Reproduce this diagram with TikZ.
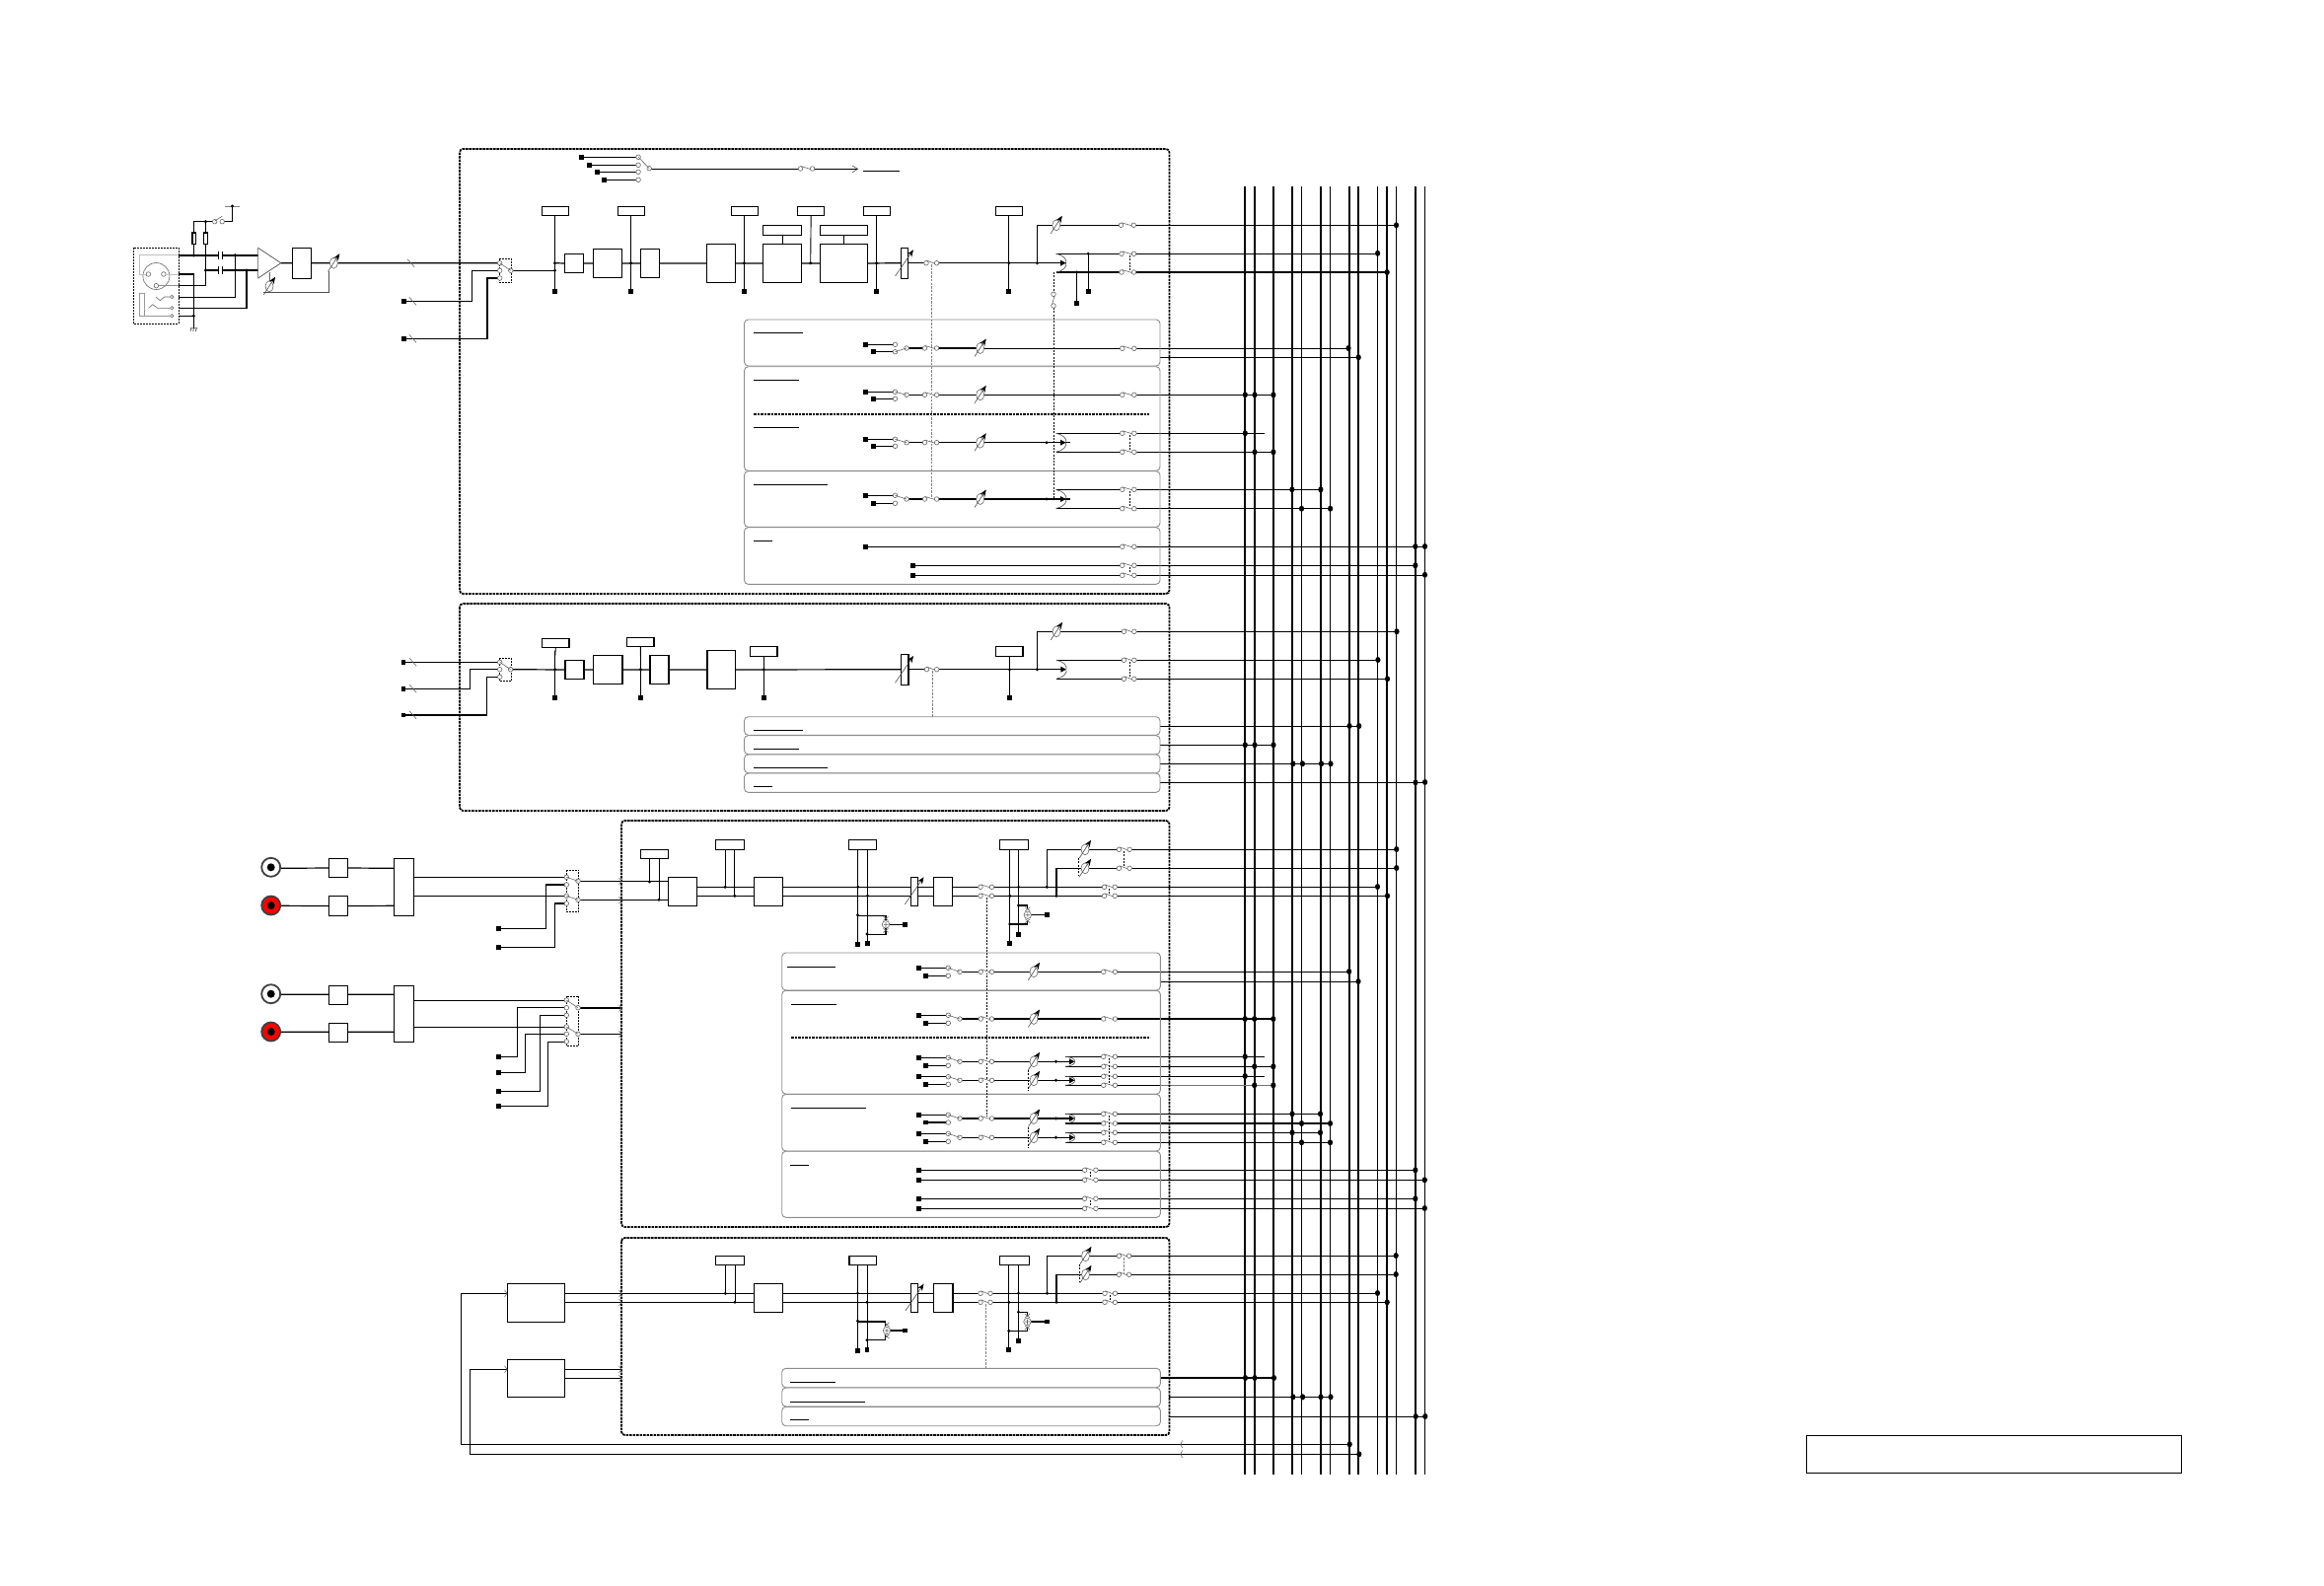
\documentclass[tikz,border=0pt]{standalone}
\usetikzlibrary{arrows.meta,shapes.geometric}
\pgfdeclarelayer{bg}
\pgfsetlayers{bg,main}
\newcounter{nn}
\tikzset{
 wire/.style={line width=1.2pt,black},
 thinw/.style={line width=.9pt,black},
 sym/.style={line width=.6pt,black!60},
 boxst/.style={draw=black,line width=1.1pt,fill=white,inner sep=0pt,outer sep=0pt},
 sqr/.style={fill=black,inner sep=0pt,outer sep=0pt,minimum width=4.8pt,minimum height=4.8pt},
 dotn/.style={circle,fill=black,inner sep=0pt,outer sep=0pt,minimum size=3.3pt},
 bdotn/.style={ellipse,fill=black,inner sep=0pt,outer sep=0pt,minimum width=5.2pt,minimum height=6pt},
 term/.style={circle,draw=black!60,line width=.6pt,fill=white,inner sep=0pt,minimum size=4.6pt},
 frame/.style={draw=black,line width=1.8pt,dash pattern=on 2.6pt off .9pt,rounded corners=3.5pt},
 panel/.style={draw=black!45,line width=.9pt,rounded corners=4pt},
 gang/.style={line width=.7pt,black,dash pattern=on 2pt off 1.3pt},
 ggang/.style={line width=.6pt,black!50,dash pattern=on 2.5pt off 1.2pt},
 sepl/.style={line width=1.7pt,black,dash pattern=on 2.6pt off .9pt},
 uline/.style={line width=1pt,black},
}
\newcommand\W[2][]{\begin{pgfonlayer}{bg}\draw[wire,#1] #2;\end{pgfonlayer}}
\newcommand\bx[5]{\pgfmathsetmacro\bxw{#4-#2}\pgfmathsetmacro\bxh{#5-#3}\node[boxst,minimum width=\bxw pt,minimum height=\bxh pt] (#1) at ({(#2+#4)/2},{(#3+#5)/2}) {};}
\newcommand\sq[2]{\stepcounter{nn}\node[sqr] (sq\thenn) at (#1,#2) {};}
\newcommand\dt[2]{\stepcounter{nn}\node[dotn] (dt\thenn) at (#1,#2) {};}
\newcommand\bd[2]{\stepcounter{nn}\node[bdotn] (bd\thenn) at (#1,#2) {};}
\newcommand\tm[2]{\stepcounter{nn}\node[term] (tm\thenn) at (#1,#2) {};}
% in-line switch that breaks a wire
\newcommand\osw[3]{\fill[white] (#1,#3-1.2) rectangle (#2,#3+1.2);\tm{#1}{#3}\tm{#2}{#3}\draw[sym] (#1+.5,#3-2.5) -- (#2-2,#3+.5);}
\newcommand\fad[2]{\stepcounter{nn}\node[draw=black!60,line width=.6pt,fill=white,ellipse,inner sep=0pt,minimum width=8pt,minimum height=11pt] (fd\thenn) at (#1,#2) {};
 \draw[line width=.6pt,black!70,-{Stealth[length=7pt,width=5.5pt,black]}] (#1-5.7,#2+8.5) -- (#1+6,#2-9.5);}
\newcommand\tick[2]{\draw[sym] (#1-3.5,#2-4) -- (#1+3.5,#2+4);}
\newcommand\chev[2]{\draw[sym] (#1-2.5,#2-3.5) -- (#1,#2) -- (#1-2.5,#2+3.5);}
\newcommand\tipa[2]{\fill[black] (#1-5.5,#2-3) -- (#1,#2) -- (#1-5.5,#2+3) -- cycle;}
\newcommand\spl[3]{% tip x, y, half height
 \draw[line width=.6pt,black!70] (#1-10,#2-#3) .. controls (#1-3,#2-#3+1) and (#1+2,#2-3) .. (#1,#2) .. controls (#1+2,#2+3) and (#1-3,#2+#3-1) .. (#1-10,#2+#3);
 \tipa{#1}{#2}}
\newcommand\bus[2]{\begin{pgfonlayer}{bg}\stepcounter{nn}\coordinate (bt\thenn) at (#1,189);\coordinate (bb\thenn) at (#1,1495);\draw[black,line width=#2pt] (bt\thenn) -- (bb\thenn);\end{pgfonlayer}}
\newcommand\cplus[2]{\stepcounter{nn}\node[draw=black!60,line width=.6pt,fill=white,circle,inner sep=0pt,minimum size=7.5pt] (pl\thenn) at (#1,#2) {};
 \draw[sym] (#1-2.5,#2) -- (#1+2.5,#2) (#1,#2-2.5) -- (#1,#2+2.5) (#1-2.5,#2-8) -- (#1+2.5,#2-4) (#1+2.5,#2-8) -- (#1-2.5,#2-4) (#1-2.5,#2+8) -- (#1+2.5,#2+4) (#1+2.5,#2+8) -- (#1-2.5,#2+4);}
\newcommand\rca[3]{\stepcounter{nn}\node[circle,draw=black!75,line width=1.8pt,fill=#3,inner sep=0pt,minimum size=19pt] (rc\thenn) at (#1,#2) {};\fill[black] (#1,#2) circle (4pt);}
% channel strip input: y sq A, y sq B, y out, y selected terminal
\newcommand\chan[4]{\W{(\cxa,#1) -- (\cxt,#1) (\cxb,#2) -- (\cxt,#2) (\cxo,#3) -- (\cxs,#3)}\W{(\cxz,#3) -- (\cxf,#3)}
 \sq{\cxa}{#1}\sq{\cxb}{#2}\tm{\cxt}{#1}\tm{\cxt}{#2}\tm{\cxo}{#3}\draw[sym] (\cxt,#4) -- (\cxo,#3);
 \osw{\cxs}{\cxz}{#3}\fad{\cxf}{#3}}
\begin{document}
\begin{tikzpicture}[x=1pt,y=-1pt]
\useasboundingbox (0,0) rectangle (2356,1607);
\begin{pgfonlayer}{bg}\fill[white] (0,0) rectangle (2356,1607);\end{pgfonlayer}
% vertical buses
\bus{1262.3}{2}\bus{1272}{1.9}\bus{1290.9}{1.7}\bus{1309.8}{1.7}\bus{1319.5}{1.6}\bus{1338.9}{1.5}\bus{1348.6}{1}\bus{1368}{1.7}\bus{1377.2}{1.6}\bus{1396.6}{1}\bus{1406.2}{1.5}\bus{1415.5}{1}\bus{1434.8}{1.7}\bus{1444.5}{1}
% frames
\draw[frame] (466,151) rectangle (1185.5,602);
\draw[frame] (466,612) rectangle (1185.5,822);
\draw[frame] (630,832) rectangle (1185.5,1244);
\draw[frame] (630,1255) rectangle (1185.5,1455);
% panels
\foreach \a/\b in {324/371,371.7/477.3,477.7/534.3,534.7/592.3,726.7/745.3,745.7/764.7,765/783.7,784/803.3}{\draw[panel] (754.5,\a) rectangle (1176,\b);}
\foreach \a/\b in {966/1004,1004.3/1109.2,1109.4/1167,1167.2/1234.3,1387.3/1406.7,1407/1426,1426.3/1445.7}{\draw[panel] (792.7,\a) rectangle (1176.4,\b);}
% panel underlines
\foreach \a/\b/\c in {764/814/337.3,764/810/385.3,764/810/433.3,764/839/491.3,764/783/548,764/814/740.3,764/810/759.3,764/839/778.3,764/783/797.3,798/847/980,802/848/1018,802/878/1123.3,801/820/1181,801/847/1401.3,801/877/1421.3,801/820/1439.3}{\draw[uline] (\a,\c) -- (\b,\c);}
\draw[sepl] (764,420) -- (1165,420);
\draw[sepl] (802,1052) -- (1166,1052);
% ---------- mic input ----------
\draw[line width=.8pt,black,dash pattern=on 2pt off 1pt] (135.4,251.3) rectangle (181.3,328.3);
\draw[sym] (158.4,280) circle (13.5pt);
\stepcounter{nn}\node[term] (xa) at (150.4,278) {};\node[term] (xb) at (165.9,278) {};\node[term] (xc) at (158.4,289.7) {};
\draw[black!25,line width=1pt] (181.3,258.7) -- (141,258.7) -- (141,278) -- (xa);
\draw[black!25,line width=1pt] (xb) -- (181.3,278);
\draw[black!45,line width=.7pt] (xc) -- (181.3,289.7);
\draw[black!40,line width=.7pt] (146.5,297.3) rectangle (141,320.3) (146.5,320.3) -- (172,320.3);
\draw[black!60,line width=.6pt] (158,301) -- (162.3,304.7) -- (166.7,301) -- (172,301) (150.8,312.3) -- (154.8,308.7) -- (159.5,312.3) -- (172,312.3);
\foreach \q in {301,312.3,320.3}{\node[term,minimum size=3.4pt] at (174.2,\q) {};}
\W{(181.3,259) -- (261.6,259)}
\W{(208.4,274) -- (261.6,274)}
\W{(181.3,278) -- (196.3,278) -- (196.3,332.7)}
\W{(181.3,289.7) -- (208.4,289.7) -- (208.4,224.7)}
\W{(196.3,259) -- (196.3,224.7) -- (216,224.7)}
\W{(227,224.7) -- (235.5,224.7) -- (235.5,209)}
\W{(238.2,259) -- (238.2,301.3) -- (181.3,301.3)}
\W{(250,274) -- (250,312.3) -- (181.3,312.3)}
\W{(181.3,320.3) -- (196.3,320.3)}
\draw[line width=.9pt,black!50] (228,209) -- (242.6,209);
\dt{235.5}{209}\dt{196.3}{259}\dt{208.4}{274}\dt{208.4}{224.7}\dt{238.2}{258.7}\dt{250}{274}\dt{196.3}{320.3}
\tm{217.7}{224.7}\tm{225.2}{224.7}\draw[sym] (217.7,224) -- (225.2,219.3);
\bx{r1}{195}{236}{198.7}{247.7}\bx{r2}{206.2}{236}{210.5}{247.7}
\foreach \q in {259,274}{\fill[white] (221.8,\q-1) rectangle (225.4,\q+1);\draw[line width=.7pt] (221.5,\q-4) -- (221.5,\q+4) (225.7,\q-4) -- (225.7,\q+4);}
\draw[black!70,line width=.7pt] (192.8,332.7) -- (200.3,332.7) (193.8,332.7) -- (193,336) (196.5,332.7) -- (195.7,336) (199.2,332.7) -- (198.4,336);
% amplifier
\coordinate (ampo) at (284.9,266.7);
\draw[black!70,line width=.7pt,fill=white] (261.6,251.3) -- (ampo) -- (261.6,282) -- cycle;
\draw[black!60,line width=.6pt] (273,276) -- (273,285);
\fad{273}{290.3}
\bx{ag}{296.4}{251.3}{315.7}{282.3}
\W[line width=.8pt,black!70]{(267,296) -- (333.5,296) -- (333.5,275)}
\fad{338.3}{266.7}
\W{(ampo) -- (ag.west) (ag.east) -- (506,266.7)}
\tick{416.6}{266.7}
% ---------- channel 1 ----------
\W{(589.4,159.3) -- (647,159.3) (597.3,167.3) -- (647,167.3) (605.6,174.3) -- (647,174.3) (612.3,182.3) -- (647,182.3)}
\sq{589.4}{159.3}\sq{597.3}{167.3}\sq{605.6}{174.3}\sq{612.3}{182.3}
\foreach \q in {159.3,167.3,174.3,182.3}{\tm{647.1}{\q}}
\tm{658.2}{170.7}\draw[sym] (647.1,159.3) -- (658.2,170.7);
\W{(660,171.3) -- (869,171.3)}\osw{811.5}{823.6}{171}
\draw[line width=.6pt,black!70] (864,168) -- (869.7,171.3) -- (864,174.7);
\draw[uline] (875,173.3) -- (911.8,173.3);
% source switch
\draw[line width=.7pt,black,dash pattern=on 2pt off 1pt] (506,262.3) rectangle (518.6,286.7);
\sq{409.4}{305.3}\sq{409.4}{343.3}
\W{(409.4,305.3) -- (478.2,305.3) -- (478.2,274.3) -- (506,274.3)}
\W{(409.4,343.3) -- (494,343.3) -- (494,282) -- (506,282)}
\tick{418.4}{305.3}\tick{418.4}{343.3}
\foreach \q in {266.7,274.3,282}{\tm{506.7}{\q}}\tm{517.8}{274.3}\draw[sym] (506.7,266.7) -- (517.8,274.3);
\W{(519.5,274.3) -- (562.5,274.3)}
\bx{t1}{549.4}{209.3}{576.7}{218.7}\bx{t2}{626.5}{209.3}{653.8}{218.7}\bx{t3}{741.7}{209.3}{768.3}{218.7}\bx{t4}{808.6}{209.3}{835.7}{218.7}\bx{t5}{875.5}{209.3}{902.6}{218.7}\bx{t6}{1009.7}{209.3}{1036.4}{218.7}
\bx{c1}{572.3}{257.3}{591.7}{276.7}\bx{c2}{601.2}{252.3}{630.5}{281.7}\bx{c3}{649.4}{252.3}{668.4}{281.7}\bx{c4}{716.3}{247.3}{745.6}{286.7}\bx{c5}{773.7}{247.3}{812.5}{286.7}\bx{c6}{831.4}{247.3}{879.4}{286.7}
\bx{l5}{773.7}{228.3}{812.5}{238.7}\bx{l6}{831.4}{228.3}{879.4}{238.7}
\W{(l5.south) -- (c5.north) (l6.south) -- (c6.north)}
\W{(562.5,266.7) -- (c1.west) (c1.east) -- (c2.west) (c2.east) -- (c3.west) (c3.east) -- (c4.west) (c4.east) -- (c5.west) (c5.east) -- (c6.west) (c6.east) -- (913.3,266.7)}
\foreach \xv/\nm in {562.5/t1,639.6/t2,754.3/t3,888.6/t5,1022.8/t6}{\W[thinw]{(\xv,218.7) -- (\xv,295.3)}\sq{\xv}{295.3}\dt{\xv}{266.7}}
\dt{562.5}{274.3}
\W[thinw]{(t4.south) -- (821.7,266.7)}\dt{821.7}{266.7}
\bx{f1}{913.3}{251.3}{920.6}{282.7}\draw[line width=.6pt,black!70,-{Stealth[length=7pt,width=5.5pt,black]}] (907.5,280) -- (925.9,253.3);
\W{(920.6,266.7) -- (1078,266.7)}\osw{939}{949.6}{266.7}
\dt{1051.4}{266.7}\W{(1051.4,266.7) -- (1051.4,228.3) -- (1068,228.3)}
\W{(1068,228.3) -- (1415.5,228.3)}\fad{1070.8}{228.3}\osw{1136.5}{1149.3}{228.3}\bd{1415.5}{228.3}
\W{(1070.8,257.3) -- (1396.6,257.3) (1070.8,276) -- (1406.2,276)}
\spl{1080.5}{266.7}{9.5}
\osw{1137}{1149.5}{257.3}\osw{1137}{1149.5}{276}
\bd{1396.6}{256.8}\bd{1406.2}{276}
\dt{1103.3}{257.3}\W{(1103.3,257.3) -- (1103.3,295.3)}\sq{1103.3}{295.3}
\dt{1091.7}{276}\W[thinw]{(1091.7,276) -- (1091.7,307.3)}\sq{1091.7}{307.3}
\draw[gang] (1145,259) -- (1145,274);
\draw[ggang] (944.3,268) -- (944.3,505);
\draw[gang] (1068.4,276) -- (1068.4,296) (1068.4,312) -- (1068.4,505);
\tm{1068}{298.3}\tm{1068}{310}\draw[sym] (1066.5,309) -- (1069,300);
% channel 1 sends
\def\cxa{877.4}\def\cxb{885.2}\def\cxt{907.5}\def\cxo{919}\def\cxs{937.5}\def\cxz{949.6}\def\cxf{993.7}
\chan{349.3}{356.7}{353}{356.7}
\W{(\cxz,353.3) -- (1367,353.3)}\osw{1137.7}{1149.8}{353.3}\bd{1367}{353}
\W{(1176,362.3) -- (1377.2,362.3)}\bd{1377.2}{362.3}
\chan{397.3}{404.3}{400.3}{397.3}
\W{(\cxz,400.3) -- (1290.9,400.3)}\osw{1137.7}{1149.8}{400.3}\bd{1262.3}{400.3}\bd{1272}{400.3}\bd{1290.9}{400.3}
\chan{445.3}{452.3}{448.7}{445.3}
\W{(\cxz,448.7) -- (1085,448.7)}\dt{1061}{448.7}\spl{1080.5}{448.7}{9.5}
\W{(1070.8,439.3) -- (1281.6,439.3) (1070.8,458.3) -- (1290.9,458.3)}
\osw{1137.7}{1149.8}{439.3}\osw{1137.7}{1149.8}{458.3}\draw[gang] (1145,441) -- (1145,456);
\bd{1262.3}{439.3}\bd{1272}{458.3}\bd{1290.9}{458.3}
\chan{502.3}{510.3}{506}{502.3}
\W{(\cxz,506) -- (1085,506)}\dt{1061}{506}\spl{1080.5}{506}{9.5}
\W{(1070.8,496.3) -- (1338.9,496.3) (1070.8,515.7) -- (1348.6,515.7)}
\osw{1137.7}{1149.8}{496.3}\osw{1137.7}{1149.8}{515.7}\draw[gang] (1145,498) -- (1145,513.5);
\bd{1309.8}{496.3}\bd{1338.9}{496.3}\bd{1319.5}{515.7}\bd{1348.6}{515.7}
\W{(877.4,554.3) -- (1444.5,554.3) (925.4,573.3) -- (1434.8,573.3) (925.4,583.3) -- (1444.5,583.3)}
\sq{877.4}{554.3}\sq{925.4}{573.3}\sq{925.4}{583.3}
\osw{1137.7}{1149.8}{554.3}\osw{1137.7}{1149.8}{573.3}\osw{1137.7}{1149.8}{583.3}\draw[gang] (1145,575) -- (1145,581.5);
\bd{1434.8}{554}\bd{1444.5}{554}\bd{1434.8}{573.3}\bd{1444.5}{582.8}
% ---------- channel 2 ----------
\draw[line width=.7pt,black,dash pattern=on 2pt off 1pt] (506,667) rectangle (518.3,690.3);
\W{(409,671.3) -- (506,671.3) (409,698.3) -- (476.7,698.3) -- (476.7,678.7) -- (506,678.7) (409,725) -- (493.8,725) -- (493.8,686.3) -- (506,686.3)}
\sq{409}{671.3}\sq{409}{698.3}\sq{409}{725}\tick{418.7}{671.3}\tick{418.7}{698.3}\tick{418.7}{725}
\foreach \q in {671.3,678.7,686.3}{\tm{506.7}{\q}}\tm{517.6}{678.7}\draw[sym] (506.7,671.3) -- (517.6,678.7);
\bx{u1}{549.7}{647.3}{577}{656.7}\bx{u2}{635.7}{646.3}{663}{655.7}\bx{u3}{760.7}{655.3}{788}{665.7}\bx{u4}{1009.8}{655.3}{1037}{665.7}
\bx{v1}{573}{669.3}{592}{688.7}\bx{v2}{601.6}{664.3}{631}{693.7}\bx{v3}{659}{664.3}{678}{693.7}\bx{v4}{717}{659.3}{745.6}{698.7}
\W{(519.5,678.7) -- (v1.west) (v1.east) -- (v2.west) (v2.east) -- (v3.west) (v3.east) -- (v4.west) (v4.east) -- (913.6,678.7)}
\foreach \xv in {562.7,649.4,774.3,1023.5}{\W[thinw]{(\xv,660) -- (\xv,707.3)}\sq{\xv}{707.3}\dt{\xv}{678.7}}
\W[thinw]{(u1.south) -- (562.7,665) (u2.south) -- (649.4,665)}
\bx{f2}{913.6}{663.3}{921}{694.7}\draw[line width=.6pt,black!70,-{Stealth[length=7pt,width=5.5pt,black]}] (907.4,692.3) -- (926,665);
\W{(921,678.7) -- (1078,678.7)}\osw{939.5}{949.7}{678.7}
\draw[ggang] (945,680) -- (945,726.7);
\dt{1051.4}{678.7}\W{(1051.4,678.7) -- (1051.4,640.3) -- (1068,640.3) -- (1416,640.3)}\fad{1071}{640.3}\osw{1139.4}{1149.8}{640.3}\bd{1416}{640.3}
\W{(1071,669.3) -- (1396.9,669.3) (1071,688.3) -- (1406.5,688.3)}\spl{1080.8}{678.7}{9.5}
\osw{1139.4}{1149.8}{669.3}\osw{1139.4}{1149.8}{688.3}\draw[gang] (1145,671) -- (1145,686);
\bd{1396.9}{669}\bd{1406.5}{688.3}
\W{(1176.4,736.3) -- (1377.7,736.3) (1176.4,755.3) -- (1291,755.3) (1176.4,774.3) -- (1349,774.3) (1176.4,793.3) -- (1444.6,793.3)}
\bd{1368}{736}\bd{1377.7}{736}\bd{1262.3}{755.3}\bd{1272}{755.3}\bd{1291}{755.3}\bd{1310.8}{774.3}\bd{1320.4}{774.3}\bd{1339.5}{774.3}\bd{1349}{774.3}\bd{1435}{793.3}\bd{1444.6}{793}
% ---------- stereo inputs ----------
\rca{274.7}{879.3}{white}\rca{274.7}{918}{red}\rca{274.7}{1007.7}{white}\rca{274.7}{1046}{red}
\bx{p1}{333.2}{870.3}{352.7}{889.7}\bx{p2}{333.2}{908.3}{352.7}{928.7}\bx{p3}{333.2}{999.3}{352.7}{1018.7}\bx{p4}{333.2}{1037.3}{352.7}{1056.7}
\bx{q1}{399.6}{870.3}{419.5}{928.7}\bx{q2}{399.6}{999.3}{419.5}{1056.7}
\W{(285,880.3) -- (p1.west) (p1.east) -- (399.6,880.3) (285,918.3) -- (p2.west) (p2.east) -- (399.6,918.3) (285,1008.3) -- (333.2,1008.3) (352.7,1008.3) -- (399.6,1008.3) (285,1046.3) -- (333.2,1046.3) (352.7,1046.3) -- (399.6,1046.3)}
\W{(419.5,889.3) -- (574,889.3) (419.5,908.3) -- (574,908.3) (419.5,1014.3) -- (574,1014.3) (419.5,1041.3) -- (574,1041.3)}
\sq{505.4}{941.3}\sq{505.4}{960.3}\sq{505.4}{1071.3}\sq{505.4}{1087.3}\sq{505.4}{1106.3}\sq{505.4}{1121.3}
\W{(505.4,941.3) -- (553.5,941.3) -- (553.5,897) -- (574,897) (505.4,960.3) -- (562.6,960.3) -- (562.6,916) -- (574,916)}
\W{(505.4,1071.3) -- (524.5,1071.3) -- (524.5,1021.7) -- (574,1021.7) (505.4,1087.3) -- (532.3,1087.3) -- (532.3,1048.7) -- (574,1048.7) (505.4,1106.3) -- (547.5,1106.3) -- (547.5,1029.3) -- (574,1029.3) (505.4,1121.3) -- (555.3,1121.3) -- (555.3,1056.3) -- (574,1056.3)}
\draw[line width=.7pt,black,dash pattern=on 2pt off 1pt] (574.3,882.3) rectangle (586.5,924.7);
\draw[line width=.7pt,black,dash pattern=on 2pt off 1pt] (574.3,1010.3) rectangle (586.5,1060.7);
\foreach \q in {889.3,897,908.3,916,1014,1021.7,1029.3,1041,1048.3,1056}{\tm{574.3}{\q}}
\tm{586}{893.3}\tm{586}{912.3}\tm{586}{1021.7}\tm{586}{1048.3}
\draw[sym] (574.3,889.3) -- (586,893.3) (574.3,908.3) -- (586,912.3) (574.3,1014) -- (586,1021.7) (574.3,1041) -- (586,1048.3);
\W{(588,893.3) -- (677,893.3) (588,912.8) -- (677,912.8) (588,1022) -- (630,1022) (588,1048.5) -- (630,1048.5)}
\chev{630}{893.3}\chev{630}{912.8}\chev{630}{1022}\chev{630}{1048.5}
% ---------- channel 3 ----------
\bx{w0}{649.4}{861.3}{677.6}{870.7}\bx{w1}{725.3}{851.3}{754.8}{861.7}\bx{w2}{860.6}{851.3}{888.7}{861.7}\bx{w3}{1013.5}{851.3}{1042.6}{861.7}
\bx{y1}{677.1}{889.3}{706.6}{918.7}\bx{y2}{764.3}{889.3}{793.3}{918.7}\bx{f3}{923.5}{889.3}{930.8}{918.7}\bx{y3}{946.5}{889.3}{965.2}{918.7}
\draw[line width=.6pt,black!70,-{Stealth[length=7pt,width=5.5pt,black]}] (917.4,916.7) -- (936.5,889.3);
\W[thinw]{(658.5,870.7) -- (658.5,893.3) (668,870.7) -- (668,912.8) (735.2,861.7) -- (735.2,899.3) (744.8,861.7) -- (744.8,908.3)}
\dt{658.5}{894}\dt{668}{912.3}\dt{735.2}{899.3}\dt{744.8}{908.3}
\W{(706.6,899.3) -- (923.5,899.3) (706.6,908.3) -- (923.5,908.3) (930.8,899.3) -- (1396.5,899.3) (930.8,908.3) -- (1406.5,908.3)}
\osw{994}{1005.4}{899.3}\osw{994}{1005.4}{908.3}\osw{1119.5}{1130.2}{899.3}\osw{1119.5}{1130.2}{908.3}
\draw[gang] (1124.8,901) -- (1124.8,906.5);
\bd{1396.5}{899}\bd{1406.5}{908.3}
\dt{869.7}{899.3}\dt{879.5}{908.3}
\W[thinw]{(869.7,861.7) -- (869.7,957.3) (879.3,861.7) -- (879.3,956.3)}\sq{869.7}{957.3}\sq{879.3}{956.3}
\dt{869.5}{927.7}\dt{879}{947}
\W{(869.7,928.3) -- (898,928.3) -- (898,933) (879.3,947.3) -- (898,947.3) -- (898,941)}
\cplus{898}{937.3}\W{(901,937.3) -- (917.4,937.3)}\sq{917.4}{937.3}
\W[thinw]{(1023.8,861.7) -- (1023.8,956.3) (1032.6,861.7) -- (1032.6,947.3)}\sq{1023.8}{956.3}\sq{1032.6}{947.3}
\dt{1032.6}{899.3}\dt{1023.8}{908.3}\dt{1032.6}{918}\dt{1023.8}{937}
\W{(1032.6,918) -- (1041.8,918) -- (1041.8,922) (1023.8,937) -- (1041.8,937) -- (1041.8,933)}
\cplus{1041.8}{927.7}\W{(1045,927.7) -- (1061.7,927.7)}\sq{1061.7}{927.7}
\dt{1061.3}{899.3}\dt{1070.9}{908.3}
\W{(1061.3,899.3) -- (1061.3,861.3) -- (1415.7,861.3) (1070.9,908.3) -- (1070.9,880.3) -- (1415.7,880.3)}
\fad{1100}{861.3}\fad{1100}{880.3}\draw[gang] (1093.7,870) -- (1093.7,888);
\osw{1134.4}{1145.1}{861.3}\osw{1134.4}{1145.1}{880.3}\draw[gang] (1139.5,863) -- (1139.5,878);
\bd{1415.7}{861}\bd{1415.7}{880}
\draw[gang] (1000.4,910) -- (1000.4,1131.7);
% channel 3 sends
\def\cxa{931.3}\def\cxb{938.3}\def\cxt{961.3}\def\cxo{973}\def\cxs{994.2}\def\cxz{1005.5}\def\cxf{1048}
\newcommand\ost[3]{\W{(\cxz,#1) -- (1085,#1)}\dt{1070.5}{#1}\tipa{1089.5}{#1}
 \draw[line width=.6pt,black!70] (1080,#2) .. controls (1086,#2) and (1090.5,#1-2) .. (1089.5,#1) .. controls (1090.5,#1+2) and (1086,#3) .. (1080,#3);
 \osw{1118.7}{1130.4}{#2}\osw{1118.7}{1130.4}{#3}}
\chan{981.3}{989.3}{985.3}{981.3}
\W{(\cxz,985.3) -- (1367.6,985.3)}\osw{1118.7}{1130.4}{985.3}\bd{1367.6}{985}
\W{(1176,995.3) -- (1377,995.3)}\bd{1377}{995}
\chan{1029.3}{1037.3}{1033}{1029.3}
\W{(\cxz,1033) -- (1290.8,1033)}\osw{1118.7}{1130.4}{1033}\bd{1262.2}{1033}\bd{1271.7}{1033}\bd{1290.8}{1033}
\chan{1072.3}{1080.3}{1076.3}{1072.3}
\chan{1091.7}{1099.3}{1095.3}{1091.7}
\draw[gang] (1042,1085) -- (1042,1105);
\ost{1076.3}{1071.3}{1081.3}\ost{1095.3}{1091.3}{1100.3}
\W{(1080,1071.3) -- (1281.7,1071.3) (1080,1081.3) -- (1290.8,1081.3) (1080,1091.3) -- (1281.7,1091.3) (1080,1100.3) -- (1176,1100.3)}
\W[black!55]{(1176,1100.3) -- (1290.8,1100.3)}
\draw[gang] (1124.8,1073) -- (1124.8,1098.5);
\bd{1262.2}{1071.3}\bd{1271.7}{1081.3}\bd{1290.8}{1081.3}\bd{1262.2}{1091}\bd{1271.7}{1100.3}\bd{1290.8}{1100.3}
\chan{1130.3}{1138}{1134}{1130.3}
\chan{1149.3}{1157.3}{1153.3}{1149.3}
\draw[gang] (1042,1143) -- (1042,1163);
\ost{1134}{1129.3}{1139}\ost{1153.3}{1148.3}{1158.3}
\W{(1080,1129.3) -- (1338.5,1129.3) (1080,1139) -- (1348.5,1139) (1080,1148.3) -- (1338.5,1148.3) (1080,1158.3) -- (1348.5,1158.3)}
\draw[gang] (1124.8,1131) -- (1124.8,1156.5);
\foreach \q in {1129.3,1148.3}{\bd{1310}{\q}\bd{1338.5}{\q}}
\foreach \q in {1139,1158.3}{\bd{1319.5}{\q}\bd{1348.5}{\q}}
\W{(931.3,1186.3) -- (1434.8,1186.3) (931.3,1196.3) -- (1444.3,1196.3) (931.3,1215.3) -- (1434.8,1215.3) (931.3,1225.3) -- (1444.3,1225.3)}
\foreach \q in {1186.3,1196.3,1215.3,1225.3}{\sq{931.3}{\q}\osw{1099.6}{1110.9}{\q}}
\draw[gang] (1105,1188) -- (1105,1194.5) (1105,1217) -- (1105,1223.5);
\bd{1434.8}{1186.3}\bd{1444.3}{1196.3}\bd{1434.8}{1215.3}\bd{1444.3}{1225}
% ---------- channel 4 ----------
\bx{A}{514.4}{1301.3}{572.4}{1340.7}\bx{B}{514.4}{1378.3}{572.4}{1416.3}
\W{(514.4,1311.3) -- (467.4,1311.3) -- (467.4,1464.3) -- (1368.2,1464.3)}
\W{(514.4,1388.3) -- (476.4,1388.3) -- (476.4,1474.3) -- (1377.8,1474.3)}
\bd{1368.2}{1464.3}\bd{1377.8}{1474.3}
\chev{514}{1311.3}\chev{514}{1388.3}
\draw[sym] (1198.5,1460.5) -- (1197,1464.3) -- (1198.5,1468) (1198.5,1470.5) -- (1197,1474.3) -- (1198.5,1478);
\W{(572.4,1311.3) -- (764.4,1311.3) (572.4,1320.3) -- (764.4,1320.3) (572.4,1388.3) -- (629,1388.3) (572.4,1397.7) -- (629,1397.7)}
\chev{630}{1311.3}\chev{630}{1320.3}\chev{630}{1388.3}\chev{630}{1397.7}
\bx{w4}{725.8}{1273.3}{754.8}{1282.7}\bx{w5}{861}{1273.3}{888.8}{1282.7}\bx{w6}{1013.8}{1273.3}{1043.4}{1282.7}
\bx{y4}{764.4}{1301.3}{793.4}{1330.7}\bx{f4}{923.6}{1301.3}{930.7}{1330.7}\bx{y5}{946.8}{1301.3}{966}{1330.7}
\draw[line width=.6pt,black!70,-{Stealth[length=7pt,width=5.5pt,black]}] (917.8,1329) -- (936.5,1301.7);
\W[thinw]{(735.4,1282.7) -- (735.4,1311.3) (745,1282.7) -- (745,1320.3)}\dt{735.4}{1311.3}\dt{745}{1320.3}
\W{(793.4,1311.3) -- (923.6,1311.3) (793.4,1320.3) -- (923.6,1320.3) (930.7,1311.3) -- (1396.5,1311.3) (930.7,1320.3) -- (1406.2,1320.3)}
\osw{994}{1004}{1311.3}\osw{994}{1004}{1320.3}\osw{1120}{1130.4}{1311.3}\osw{1120}{1130.4}{1320.3}
\draw[gang] (1125.5,1313) -- (1125.5,1318.5);
\bd{1396.5}{1311}\bd{1406.2}{1320.3}
\dt{869.5}{1311.3}\dt{879}{1320.3}
\W[thinw]{(869.5,1282.7) -- (869.5,1369.3) (879,1282.7) -- (879,1368.7)}\sq{869.5}{1369.3}\sq{879}{1368.7}
\dt{869.5}{1339.3}\dt{879}{1358.7}
\W{(869.5,1340) -- (897.2,1340) -- (897.2,1345) (879,1358.7) -- (897.2,1358.7) -- (897.2,1353)}
\cplus{899}{1349}\W{(902,1349) -- (917.8,1349)}\sq{917.8}{1349}
\W[thinw]{(1022.8,1282.7) -- (1022.8,1368.7) (1032.5,1282.7) -- (1032.5,1359.3)}\sq{1022.8}{1368.7}\sq{1032.5}{1359.3}
\dt{1032.5}{1311.3}\dt{1022.8}{1320.3}\dt{1032.5}{1330.3}\dt{1022.8}{1349.3}
\W{(1032.5,1330.3) -- (1041.5,1330.3) -- (1041.5,1335) (1022.8,1349.3) -- (1041.5,1349.3) -- (1041.5,1345)}
\cplus{1041.5}{1340}\W{(1045,1340) -- (1061.5,1340)}\sq{1061.5}{1340}
\dt{1061.5}{1311.3}\dt{1071}{1320.3}
\W{(1061.5,1311.3) -- (1061.5,1273.3) -- (1415.2,1273.3) (1071,1320.3) -- (1071,1292.3) -- (1415.2,1292.3)}
\fad{1100.5}{1273.3}\fad{1100.5}{1292.3}\draw[gang] (1094.2,1282) -- (1094.2,1300);
\osw{1134.4}{1144.6}{1273.3}\osw{1134.4}{1144.6}{1292.3}\draw[ggang] (1139.5,1275) -- (1139.5,1290);
\bd{1415.2}{1273}\bd{1415.2}{1292}
\draw[ggang] (999,1322) -- (999,1387.3);
\W{(1176.8,1397) -- (1291.5,1397) (1185,1416.3) -- (1349,1416.3) (1185,1436.3) -- (1444.8,1436.3)}
\bd{1262.5}{1397}\bd{1272}{1397}\bd{1291.5}{1397}\bd{1310.8}{1416.3}\bd{1320.6}{1416.3}\bd{1339}{1416.3}\bd{1349}{1416.3}\bd{1435.2}{1436}\bd{1444.8}{1436}
% title box
\draw[line width=1.3pt,black] (1831.3,1455.3) rectangle (2211.3,1493.3);
\end{tikzpicture}
\end{document}
